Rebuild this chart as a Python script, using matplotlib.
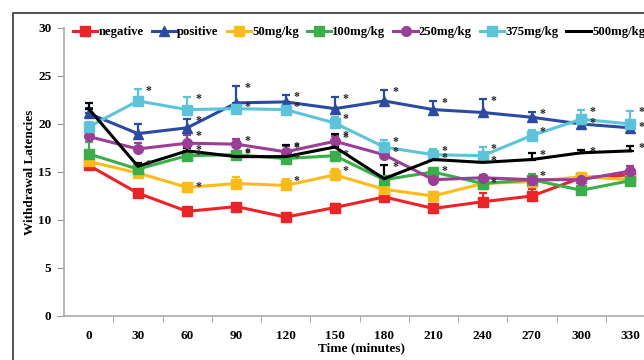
import matplotlib.pyplot as plt
from matplotlib.patches import Rectangle
from matplotlib.lines import Line2D

plt.rcParams['font.family'] = ['Liberation Serif', 'DejaVu Serif']
plt.rcParams['font.weight'] = 'bold'

times = [0, 30, 60, 90, 120, 150, 180, 210, 240, 270, 300, 330]

names = ["negative", "positive", "50mg/kg", "100mg/kg", "250mg/kg", "375mg/kg", "500mg/kg"]
colors = ["#EE2325", "#2B4BA1", "#FDBB1A", "#3AAE49", "#9B3E97", "#5BC4DA", "#000000"]
markers = ["s", "^", "s", "s", "o", "s", None]

negative = [15.7, 12.8, 10.9, 11.4, 10.3, 11.3, 12.4, 11.2, 11.9, 12.5, 14.4, 14.7]
positive = [21.1, 19.0, 19.6, 22.2, 22.3, 21.6, 22.4, 21.5, 21.2, 20.7, 20.0, 19.6]
mg50 = [16.1, 14.9, 13.4, 13.8, 13.6, 14.7, 13.2, 12.5, 13.8, 14.0, 14.5, 14.2]
mg100 = [16.9, 15.3, 16.7, 16.8, 16.4, 16.7, 14.2, 15.0, 13.8, 14.2, 13.1, 14.1]
mg250 = [18.7, 17.4, 18.0, 17.9, 17.1, 18.2, 16.8, 14.2, 14.4, 14.2, 14.2, 15.1]
mg375 = [19.7, 22.4, 21.5, 21.6, 21.5, 20.1, 17.6, 16.8, 16.7, 18.8, 20.5, 20.0]
mg500 = [21.6, 15.6, 17.2, 16.6, 16.6, 17.6, 14.3, 16.3, 16.0, 16.3, 17.0, 17.2]

err_negative = [0.3, 0.3, 0.2, 0.3, 0.2, 0.4, 0.3, 0.5, 0.9, 0.7, 0.4, 0.3]
err_positive = [0.6, 1.0, 0.9, 1.8, 0.7, 1.2, 1.1, 0.9, 1.4, 0.5, 0.3, 0.3]
err_mg50 = [0.3, 0.3, 0.2, 0.7, 0.7, 0.6, 0.4, 0.4, 0.4, 0.5, 0.4, 0.3]
err_mg100 = [1.2, 0.4, 0.3, 0.4, 0.3, 0.3, 0.3, 0.3, 0.3, 0.6, 0.3, 0.3]
err_mg250 = [0.5, 0.6, 0.9, 0.5, 0.6, 0.5, 0.5, 0.3, 0.3, 0.3, 0.3, 0.5]
err_mg375 = [0.5, 1.2, 1.3, 0.4, 0.5, 0.6, 0.7, 0.6, 0.9, 0.6, 1.0, 1.4]
err_mg500 = [0.6, 0.3, 0.3, 0.5, 1.2, 1.4, 1.4, 0.4, 0.3, 0.7, 0.3, 0.5]

# indices of time points marked with an asterisk
star_negative = []
star_positive = [2, 3, 4, 5, 6, 7, 8, 9, 10, 11]
star_mg50 = [2, 4, 5]
star_mg100 = [2, 3, 4, 5, 7, 8, 9]
star_mg250 = [2, 3, 4, 5, 6]
star_mg375 = [1, 2, 3, 4, 5, 6, 7, 8, 9, 10, 11]
star_mg500 = [1, 2, 3, 4, 5, 6, 7, 8, 9, 10, 11]

series = [negative, positive, mg50, mg100, mg250, mg375, mg500]
errors = [err_negative, err_positive, err_mg50, err_mg100, err_mg250, err_mg375, err_mg500]
stars = [star_negative, star_positive, star_mg50, star_mg100, star_mg250, star_mg375, star_mg500]

fig = plt.figure(figsize=(6.44, 3.6), dpi=100)
ax = fig.add_axes([64 / 644, 1 - 316 / 360, (655 - 64) / 644, (316 - 28) / 360])

# outer frame of the cropped figure
fig.patches.append(Rectangle((13 / 644, -0.1), 1.2, 1 - 13 / 360 + 0.1, transform=fig.transFigure,
                             fill=False, edgecolor="#444444", linewidth=1.3))

x = list(range(len(times)))
handles = []
for vals, err, col, mk, name in zip(series, errors, colors, markers, names):
    ms = 7.5 if mk == "^" else 7
    ax.errorbar(x, vals, yerr=[[0] * len(err), err], color=col, ecolor=col, elinewidth=1.6,
                capsize=3, capthick=1.6, lw=2.2, marker=mk, markersize=ms, zorder=3)
    handles.append(Line2D([], [], color=col, lw=2.2, marker=mk, markersize=ms, label=name))

for vals, err, st in zip(series, errors, stars):
    for i in st:
        ax.text(x[i] + 0.22, vals[i] + err[i] - 0.2, "*", fontsize=8.5, ha="center", va="center",
                color="#222222", zorder=4)

ax.set_xlim(-0.5, len(times) - 0.5)
ax.set_ylim(0, 30)
ax.set_yticks([0, 5, 10, 15, 20, 25, 30])
ax.set_xticks(x)
ax.set_xticklabels([str(t) for t in times])
ax.set_xticks([i + 0.5 for i in x[:-1]], minor=True)
ax.tick_params(axis="x", which="major", length=0, pad=10, labelsize=9.5)
ax.tick_params(axis="x", which="minor", length=4, color="#999999", direction="out")
ax.tick_params(axis="y", length=5, color="#999999", labelsize=9.5, pad=4)
for s in ["top", "right"]:
    ax.spines[s].set_visible(False)
for s in ["left", "bottom"]:
    ax.spines[s].set_color("#aaaaaa")
    ax.spines[s].set_linewidth(1.2)

fig.text(30 / 644, 1 - 172 / 360, "Withdrawal Latencies", fontsize=9.5, fontweight="bold",
         rotation=90, ha="center", va="center")
fig.text(361 / 644, 1 - 348 / 360, "Time (minutes)", fontsize=9.5, fontweight="bold",
         ha="center", va="center")

ax.legend(handles=handles, loc="upper left", bbox_to_anchor=(73 / 644, 1 - 26 / 360),
          bbox_transform=fig.transFigure, ncol=7, frameon=False, fontsize=9.2,
          handlelength=1.9, handletextpad=0.1, columnspacing=0.62, borderaxespad=0, borderpad=0)

fig.savefig("out.png", dpi=100)
